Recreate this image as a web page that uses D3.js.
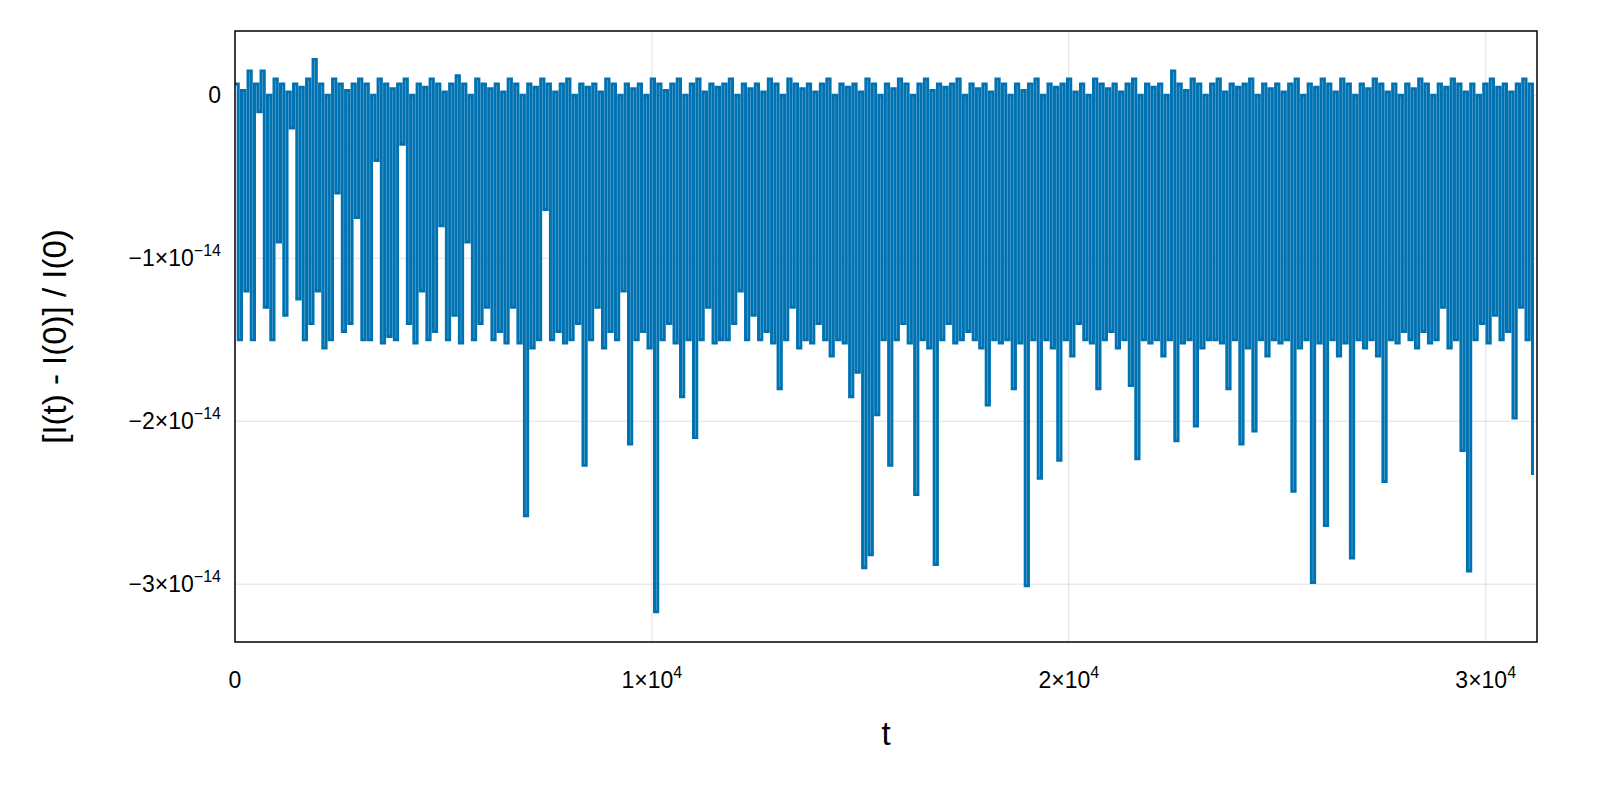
<!DOCTYPE html>
<html><head><meta charset="utf-8">
<script src="https://cdn.jsdelivr.net/npm/d3@7"></script>
<style>html,body{margin:0;background:#fff;overflow:hidden}svg{display:block}svg text{font-family:"Liberation Sans",Arial,sans-serif}</style>
</head><body><div id="chart"></div>
<script>
// relative drift of the invariant, in units of 1e-14
const stepT = 156;
const lows = [
 -1.5,-1.2,-1.5,-0.1,-1.3,-1.5,-0.9,-1.35,-0.2,-1.25,
 -1.5,-1.4,-1.2,-1.55,-1.5,-0.6,-1.45,-1.4,-0.75,-1.5,
 -1.5,-0.4,-1.52,-1.48,-1.5,-0.3,-1.4,-1.52,-1.2,-1.5,
 -1.45,-0.8,-1.5,-1.35,-1.52,-0.9,-1.5,-1.4,-1.3,-1.5,
 -1.45,-1.52,-1.3,-1.52,-2.58,-1.55,-1.5,-0.7,-1.5,-1.45,
 -1.52,-1.5,-1.4,-2.27,-1.5,-1.3,-1.55,-1.45,-1.5,-1.2,
 -2.14,-1.5,-1.45,-1.55,-3.17,-1.5,-1.4,-1.52,-1.85,-1.5,
 -2.1,-1.5,-1.3,-1.52,-1.5,-1.5,-1.4,-1.2,-1.5,-1.35,
 -1.5,-1.45,-1.52,-1.8,-1.5,-1.3,-1.55,-1.5,-1.52,-1.4,
 -1.5,-1.6,-1.5,-1.52,-1.85,-1.7,-2.9,-2.82,-1.96,-1.5,
 -2.27,-1.5,-1.4,-1.52,-2.45,-1.5,-1.55,-2.88,-1.5,-1.4,
 -1.52,-1.5,-1.45,-1.5,-1.55,-1.9,-1.5,-1.52,-1.5,-1.8,
 -1.52,-3.01,-1.5,-2.35,-1.5,-1.55,-2.24,-1.5,-1.6,-1.4,
 -1.5,-1.52,-1.8,-1.5,-1.45,-1.55,-1.5,-1.78,-2.23,-1.5,
 -1.52,-1.5,-1.6,-1.5,-2.12,-1.52,-1.5,-2.03,-1.55,-1.5,
 -1.5,-1.52,-1.8,-1.5,-2.14,-1.55,-2.06,-1.5,-1.6,-1.5,
 -1.52,-1.5,-2.43,-1.55,-1.5,-2.99,-1.52,-2.64,-1.5,-1.6,
 -1.52,-2.84,-1.5,-1.55,-1.5,-1.6,-2.37,-1.5,-1.52,-1.45,
 -1.5,-1.55,-1.45,-1.52,-1.5,-1.3,-1.55,-1.5,-2.18,-2.92,
 -1.5,-1.4,-1.52,-1.35,-1.5,-1.45,-1.98,-1.3,-1.5,-2.33
];
const highs = [
 0.07,0.03,0.15,0.07,0.15,0.0,0.1,0.07,0.02,0.07,
 0.05,0.1,0.22,0.07,0.0,0.1,0.07,0.03,0.07,0.1,
 0.07,0.0,0.1,0.07,0.04,0.07,0.1,0.0,0.07,0.05,
 0.1,0.07,0.02,0.07,0.12,0.07,0.0,0.1,0.07,0.04,
 0.07,0.02,0.1,0.07,0.0,0.07,0.05,0.1,0.07,0.02,
 0.07,0.1,0.0,0.07,0.05,0.07,0.02,0.1,0.07,0.0,
 0.07,0.04,0.07,0.0,0.1,0.07,0.03,0.07,0.1,0.0,
 0.07,0.1,0.02,0.07,0.05,0.07,0.1,0.0,0.07,0.04,
 0.07,0.02,0.1,0.07,0.0,0.1,0.07,0.04,0.07,0.02,
 0.07,0.1,0.0,0.07,0.05,0.07,0.02,0.1,0.07,0.0,
 0.07,0.04,0.1,0.07,0.0,0.07,0.1,0.03,0.07,0.05,
 0.07,0.1,0.0,0.07,0.04,0.07,0.02,0.1,0.07,0.0,
 0.07,0.03,0.07,0.1,0.0,0.07,0.05,0.07,0.1,0.02,
 0.07,0.0,0.1,0.07,0.04,0.07,0.02,0.07,0.1,0.0,
 0.07,0.05,0.07,0.0,0.15,0.07,0.03,0.1,0.07,0.0,
 0.07,0.1,0.02,0.07,0.05,0.07,0.1,0.0,0.07,0.04,
 0.07,0.02,0.07,0.1,0.0,0.07,0.05,0.1,0.07,0.02,
 0.1,0.07,0.0,0.07,0.04,0.1,0.07,0.02,0.07,0.0,
 0.07,0.04,0.1,0.07,0.0,0.07,0.05,0.1,0.07,0.02,
 0.07,0.0,0.07,0.1,0.05,0.07,0.02,0.07,0.1,0.07
];
const xTicks = [0, 1e4, 2e4, 3e4];
const xTickLabels = ["0", "1×10", "2×10", "3×10"];
const yTicks = [0, -1, -2, -3];
const yTickLabels = ["0", "−1×10", "−2×10", "−3×10"];

const W = 1600, H = 800;
const m = {left: 235, right: 63, top: 31, bottom: 158};
const svg = d3.select("#chart").append("svg").attr("width", W).attr("height", H);

const x = d3.scaleLinear().domain([0, 31230]).range([m.left, W - m.right]);
const y = d3.scaleLinear().domain([-3.355, 0.395]).range([H - m.bottom, m.top]);

const pts = [];
lows.forEach((v, i) => {
  pts.push([i * stepT, highs[i]]);
  pts.push([i * stepT + stepT / 2, v]);
});

// grid
svg.append("g").selectAll("line").data(xTicks).join("line")
  .attr("x1", d => x(d)).attr("x2", d => x(d)).attr("y1", m.top).attr("y2", H - m.bottom)
  .attr("stroke", "#000").attr("stroke-opacity", 0.12);
svg.append("g").selectAll("line").data(yTicks).join("line")
  .attr("y1", d => y(d)).attr("y2", d => y(d)).attr("x1", m.left).attr("x2", W - m.right)
  .attr("stroke", "#000").attr("stroke-opacity", 0.12);

svg.append("defs").append("clipPath").attr("id", "clip").append("rect")
  .attr("x", m.left).attr("y", m.top).attr("width", W - m.left - m.right).attr("height", H - m.top - m.bottom);

svg.append("path").datum(pts)
  .attr("clip-path", "url(#clip)")
  .attr("fill", "none").attr("stroke", "#0072b2").attr("stroke-width", 3)
  .attr("d", d3.line().x(d => x(d[0])).y(d => y(d[1])).curve(d3.curveStepAfter));

svg.append("rect").attr("x", m.left).attr("y", m.top)
  .attr("width", W - m.left - m.right).attr("height", H - m.top - m.bottom)
  .attr("fill", "none").attr("stroke", "#000").attr("stroke-width", 1.5);

// x tick labels
const xt = svg.append("g").selectAll("text").data(xTicks).join("text")
  .attr("x", d => x(d)).attr("y", H - m.bottom + 46).attr("text-anchor", "middle")
  .attr("font-size", 23);
xt.each(function(d, i) {
  const t = d3.select(this);
  t.append("tspan").text(xTickLabels[i]);
  if (i > 0) t.append("tspan").attr("dy", -10).attr("font-size", 16).text("4");
});
// y tick labels
const yt = svg.append("g").selectAll("text").data(yTicks).join("text")
  .attr("x", m.left - 14).attr("y", d => y(d) + 8).attr("text-anchor", "end")
  .attr("font-size", 23);
yt.each(function(d, i) {
  const t = d3.select(this);
  t.append("tspan").text(yTickLabels[i]);
  if (i > 0) t.append("tspan").attr("dy", -10).attr("font-size", 16).text("−14");
});

svg.append("text").attr("x", x(15615)).attr("y", 745).attr("text-anchor", "middle")
  .attr("font-size", 33).text("t");
svg.append("text").attr("transform", `translate(66,${(m.top + H - m.bottom) / 2}) rotate(-90)`)
  .attr("text-anchor", "middle").attr("font-size", 33).text("[I(t) - I(0)] / I(0)");
</script></body></html>
